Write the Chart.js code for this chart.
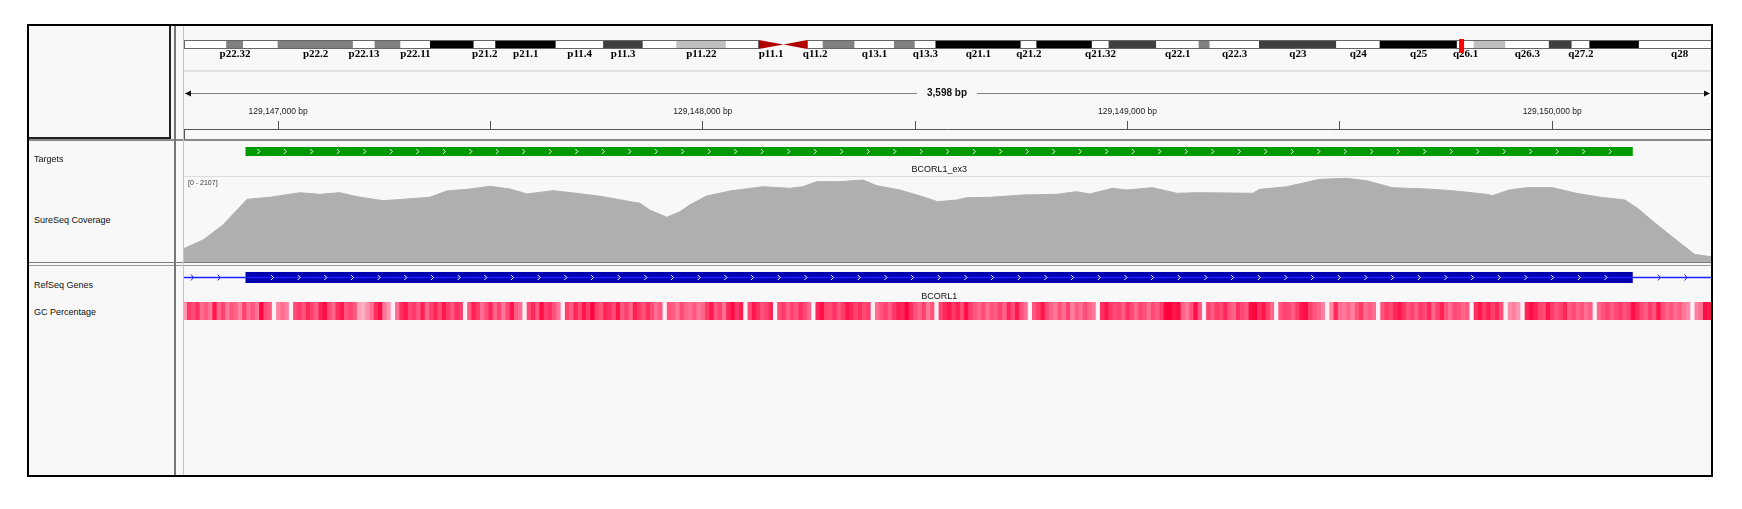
<!DOCTYPE html>
<html>
<head>
<meta charset="utf-8">
<script src="https://cdn.jsdelivr.net/npm/chart.js@4.4.1/dist/chart.umd.min.js"></script>
<style>
  html, body { margin: 0; padding: 0; background: #fff; }
  body { width: 1742px; height: 509px; position: relative; overflow: hidden;
         font-family: "Liberation Sans", Arial, sans-serif; }
  #frame { position: absolute; left: 27px; top: 24px; width: 1686px; height: 453px;
           box-sizing: border-box; border: 2px solid #000; background: #f8f8f8; overflow: hidden; }
  #frame canvas, #frame .ln, #frame .name, #head { position: absolute; }
  #head { left: 0; top: 0; width: 142px; height: 113px; box-sizing: border-box;
          border-right: 2px solid #222; border-bottom: 2px solid #222; }
  .name { left: 5px; font-size: 9px; line-height: 10px; color: #111; white-space: nowrap; }
</style>
</head>
<body>
<div id="frame">
  <div id="head"></div>
  <canvas id="ideo" width="1536" height="26" style="left:155px;top:10px"></canvas>
  <canvas id="ruler" width="1528" height="78" style="left:154px;top:36px"></canvas>
  <canvas id="targets" width="1528" height="34" style="left:154px;top:116px"></canvas>
  <canvas id="coverage" width="1528" height="85" style="left:154px;top:151px"></canvas>
  <canvas id="refseq" width="1528" height="34" style="left:154px;top:241px"></canvas>
  <canvas id="gc" width="1528" height="18" style="left:154px;top:276px"></canvas>

  <div class="ln" style="left:155px;top:44px;width:1530px;height:2px;background:#e2e2e2"></div>
  <div class="ln" style="left:155px;top:103px;width:1px;height:10px;background:#555"></div>
  <div class="ln" style="left:0;top:113px;width:1690px;height:2px;background:#8a8a8a"></div>
  <div class="ln" style="left:155px;top:150px;width:1530px;height:1px;background:#dcdcdc"></div>
  <div class="ln" style="left:0;top:236px;width:1690px;height:1px;background:#7a7a7a"></div>
  <div class="ln" style="left:0;top:239px;width:1690px;height:1px;background:#9a9a9a"></div>
  <div class="ln" style="left:145px;top:0;width:2px;height:460px;background:#777"></div>
  <div class="ln" style="left:154px;top:0;width:1px;height:460px;background:#c4c4c4"></div>

  <div class="name" style="top:128px">Targets</div>
  <div class="name" style="top:189px">SureSeq Coverage</div>
  <div class="name" style="top:254px">RefSeq Genes</div>
  <div class="name" style="top:281px">GC Percentage</div>
</div>

<script>
// view: chrX:129,146,776-129,150,374
const regionStart = 129146776;
const regionEnd = 129150374;
const rulerStep = 500;      // tick every 500 bp, label every 1000 bp
const rulerLabelStep = 1000;

// chrX cytobands (Mb)
const chrLength = 155.27;
const bandNames  = ['p22.33','p22.32','p22.31','p22.2','p22.13','p22.12','p22.11','p21.3','p21.2','p21.1',
                    'p11.4','p11.3','p11.23','p11.22','p11.21','p11.1','q11.1','q11.2','q12','q13.1',
                    'q13.2','q13.3','q21.1','q21.2','q21.31','q21.32','q21.33','q22.1','q22.2','q22.3',
                    'q23','q24','q25','q26.1','q26.2','q26.3','q27.1','q27.2','q27.3','q28'];
const bandStarts = [0, 4.3, 6.0, 9.5, 17.1, 19.3, 21.9, 24.9, 29.3, 31.5,
                    37.6, 42.4, 46.4, 49.8, 54.8, 58.1, 60.6, 63.0, 64.6, 67.8,
                    71.8, 73.9, 76.0, 84.6, 86.2, 91.8, 93.5, 98.3, 102.6, 103.7,
                    108.7, 116.5, 120.9, 128.7, 130.4, 133.6, 138.0, 140.3, 142.1, 147.1];
const bandEnds   = [4.3, 6.0, 9.5, 17.1, 19.3, 21.9, 24.9, 29.3, 31.5, 37.6,
                    42.4, 46.4, 49.8, 54.8, 58.1, 60.6, 63.0, 64.6, 67.8, 71.8,
                    73.9, 76.0, 84.6, 86.2, 91.8, 93.5, 98.3, 102.6, 103.7, 108.7,
                    116.5, 120.9, 128.7, 130.4, 133.6, 138.0, 140.3, 142.1, 147.1, 155.27];
const bandStains = ['gneg','gpos50','gneg','gpos50','gneg','gpos50','gneg','gpos100','gneg','gpos100',
                    'gneg','gpos75','gneg','gpos25','gneg','acen','acen','gneg','gpos50','gneg',
                    'gpos50','gneg','gpos100','gneg','gpos100','gneg','gpos75','gneg','gpos50','gneg',
                    'gpos75','gneg','gpos100','gneg','gpos25','gneg','gpos75','gneg','gpos100','gneg'];
const labelledBands = ['p22.32','p22.2','p22.13','p22.11','p21.2','p21.1','p11.4','p11.3','p11.22','p11.1',
                       'q11.2','q13.1','q13.3','q21.1','q21.2','q21.32','q22.1','q22.3','q23','q24',
                       'q25','q26.1','q26.3','q27.2','q28'];

// Targets track
const targetNames  = ['BCORL1_ex3'];
const targetStarts = [129146924];
const targetEnds   = [129150189];

// RefSeq Genes track
const geneNames  = ['BCORL1'];
const geneStarts = [129115083];
const geneEnds   = [129192058];
const exonStarts = [129146924];
const exonEnds   = [129150189];

// SureSeq Coverage
const coverageMax = 2107;
const coveragePos = [129146776,129146823,129146870,129146927,129146981,129147051,129147098,129147145,129147186,129147247,
                     129147294,129147357,129147397,129147452,129147499,129147546,129147586,129147647,129147703,129147765,
                     129147798,129147852,129147875,129147915,129147946,129147969,129148009,129148064,129148141,129148205,
                     129148235,129148268,129148322,129148377,129148410,129148464,129148518,129148553,129148598,129148621,
                     129148676,129148753,129148833,129148880,129148911,129148965,129148998,129149059,129149116,129149163,
                     129149193,129149295,129149311,129149375,129149452,129149516,129149563,129149624,129149704,129149765,
                     129149845,129149859,129149899,129149940,129150001,129150057,129150114,129150171,129150201,129150248,
                     129150302,129150335,129150374];
const coverageVal = [322,545,917,1554,1604,1718,1678,1718,1619,1520,
                     1554,1604,1760,1810,1876,1810,1686,1768,1703,1619,
                     1554,1455,1289,1108,1247,1413,1636,1760,1866,1827,
                     1866,1990,1990,2033,1891,1785,1619,1495,1537,1594,
                     1604,1661,1678,1743,1686,1827,1785,1843,1703,1718,
                     1715,1703,1801,1866,2049,2074,2016,1843,1810,1768,
                     1678,1645,1785,1843,1843,1703,1604,1537,1330,917,
                     463,190,131];

// GC Percentage, 10 bp windows from regionStart
const gcBinSize = 10;
const gcValues = [
  40,62,58,64,50,55,48,70,52,60,47,55,52,45,60,50,56,48,74,58,
  55,15,45,50,46,15,58,62,56,66,60,54,68,72,58,52,64,70,56,60,
  55,38,35,42,50,65,72,48,40,12,50,64,70,58,62,55,68,52,60,66,
  58,70,62,56,64,60,12,55,68,62,50,57,66,52,60,48,58,70,54,50,
  12,58,66,55,72,60,64,56,48,14,60,54,66,58,70,62,74,60,56,66,
  64,58,70,55,60,52,68,62,56,64,58,50,55,14,56,54,48,58,52,50,
  55,48,52,62,70,56,60,50,66,72,62,68,12,58,70,64,56,60,66,14,
  58,62,54,60,56,64,58,52,14,66,72,60,58,64,56,62,70,66,60,64,
  58,62,14,50,56,60,54,62,68,66,74,64,56,52,60,48,56,14,60,66,
  70,62,68,58,72,60,55,52,58,50,56,54,60,52,66,58,70,56,50,14,
  56,62,70,58,52,48,56,50,60,46,54,50,58,52,48,14,64,70,62,58,
  60,54,64,58,52,60,56,50,58,54,62,74,76,70,72,52,48,56,72,55,
  12,60,54,62,58,66,56,52,64,58,55,72,74,64,70,60,52,14,56,60,
  58,54,62,70,72,60,56,52,46,14,44,66,50,48,52,46,56,62,50,54,
  50,14,56,62,58,66,70,64,56,60,54,62,58,66,52,60,68,56,50,58,
  56,52,54,14,64,70,62,68,60,66,56,14,42,46,40,14,66,72,68,60,
  58,70,62,56,60,66,54,58,52,56,50,54,14,52,56,60,54,58,62,56,
  60,72,66,58,54,62,56,70,58,52,56,50,54,48,44,14,46,50,72,70
];

const sans = '"Liberation Sans", Arial, sans-serif';
const stainColors = { gneg: '#ffffff', gpos25: '#c0c0c0', gpos50: '#808080',
                      gpos75: '#404040', gpos100: '#000000', acen: 'rgba(0,0,0,0)' };

function gcColor(v) {
  const t = Math.max(0, Math.min(1, (v - 20) / 55));
  return 'rgb(255,' + Math.round(240 * (1 - t)) + ',' + Math.round(60 + 185 * (1 - t)) + ')';
}

function baseOptions(extra) {
  return Object.assign({
    animation: false,
    responsive: false,
    events: [],
    plugins: { legend: { display: false }, tooltip: { enabled: false } }
  }, extra);
}

function chevron(ctx, x, y, h) {
  ctx.beginPath();
  ctx.moveTo(x - 1.5, y - h);
  ctx.lineTo(x + 1, y);
  ctx.lineTo(x - 1.5, y + h);
  ctx.stroke();
}

// ---- ideogram ----
const ideogramPlugin = {
  id: 'ideogram',
  afterDatasetsDraw(chart) {
    const { ctx, chartArea: a, scales: { x } } = chart;
    const mid = (a.top + a.bottom) / 2;
    ctx.save();
    // centromere
    ctx.fillStyle = '#b00000';
    bandNames.forEach((n, i) => {
      if (bandStains[i] !== 'acen') return;
      const flat = n[0] === 'p' ? bandStarts[i] : bandEnds[i];
      const tip = n[0] === 'p' ? bandEnds[i] : bandStarts[i];
      ctx.beginPath();
      ctx.moveTo(x.getPixelForValue(flat), a.top);
      ctx.lineTo(x.getPixelForValue(tip), mid);
      ctx.lineTo(x.getPixelForValue(flat), a.bottom);
      ctx.closePath();
      ctx.fill();
    });
    // arm outlines
    const pEnd = bandStarts[bandStains.indexOf('acen')];
    const qStart = bandEnds[bandStains.lastIndexOf('acen')];
    ctx.strokeStyle = '#666';
    ctx.lineWidth = 1;
    [[0, pEnd], [qStart, chrLength]].forEach(([s, e]) => {
      const x0 = Math.round(x.getPixelForValue(s)) + 0.5;
      const x1 = Math.round(x.getPixelForValue(e)) - 0.5;
      ctx.strokeRect(x0, a.top + 0.5, x1 - x0, a.bottom - a.top - 1);
    });
    // band labels
    ctx.fillStyle = '#000';
    ctx.font = 'bold 11px "Liberation Serif", "Times New Roman", serif';
    ctx.textAlign = 'center';
    ctx.textBaseline = 'alphabetic';
    bandNames.forEach((n, i) => {
      if (!labelledBands.includes(n)) return;
      const cx = (x.getPixelForValue(bandStarts[i]) + x.getPixelForValue(bandEnds[i])) / 2;
      ctx.fillText(n, cx, a.bottom + 8);
    });
    // current view
    const v0 = x.getPixelForValue(regionStart / 1e6);
    const v1 = x.getPixelForValue(regionEnd / 1e6);
    const w = Math.max(5, v1 - v0);
    ctx.fillStyle = '#ff0000';
    ctx.fillRect((v0 + v1) / 2 - w / 2, a.top - 1, w, a.bottom - a.top + 5);
    ctx.restore();
  }
};

new Chart(document.getElementById('ideo'), {
  type: 'bar',
  data: {
    labels: ['chrX'],
    datasets: [{
      data: bandNames.map((n, i) => ({ x: [bandStarts[i], bandEnds[i]], y: 'chrX' })),
      backgroundColor: bandStains.map(s => stainColors[s]),
      borderWidth: 0,
      barPercentage: 1,
      categoryPercentage: 1
    }]
  },
  options: baseOptions({
    indexAxis: 'y',
    layout: { padding: { top: 4, bottom: 13 } },
    scales: {
      x: { type: 'linear', min: 0, max: chrLength, display: false },
      y: { type: 'category', display: false }
    }
  }),
  plugins: [ideogramPlugin]
});

// ---- ruler ----
const rulerPlugin = {
  id: 'rulerSpan',
  afterDraw(chart) {
    const { ctx, scales: { x } } = chart;
    const x0 = x.getPixelForValue(regionStart);
    const x1 = x.getPixelForValue(regionEnd);
    const y = 31.5;
    const label = (regionEnd - regionStart).toLocaleString('en-US') + ' bp';
    ctx.save();
    ctx.font = 'bold 10px ' + sans;
    const tw = ctx.measureText(label).width;
    const cx = (x0 + x1) / 2;
    ctx.strokeStyle = '#808080';
    ctx.lineWidth = 1;
    ctx.beginPath();
    ctx.moveTo(x0 + 2, y); ctx.lineTo(cx - tw / 2 - 10, y);
    ctx.moveTo(cx + tw / 2 + 10, y); ctx.lineTo(x1 - 2, y);
    ctx.stroke();
    ctx.fillStyle = '#111';
    ctx.beginPath();
    ctx.moveTo(x0 + 2, y); ctx.lineTo(x0 + 8, y - 3); ctx.lineTo(x0 + 8, y + 3); ctx.closePath();
    ctx.moveTo(x1 - 1, y); ctx.lineTo(x1 - 7, y - 3); ctx.lineTo(x1 - 7, y + 3); ctx.closePath();
    ctx.fill();
    ctx.textAlign = 'center';
    ctx.textBaseline = 'middle';
    ctx.fillText(label, cx, y);
    ctx.restore();
  }
};

new Chart(document.getElementById('ruler'), {
  type: 'line',
  data: { datasets: [] },
  options: baseOptions({
    layout: { padding: { bottom: 2 } },
    scales: {
      x: {
        type: 'linear', position: 'top', min: regionStart, max: regionEnd,
        afterFit(scale) { scale.height = 67; },
        afterBuildTicks(scale) {
          const ticks = [];
          for (let v = Math.ceil(regionStart / rulerStep) * rulerStep; v <= regionEnd; v += rulerStep) {
            ticks.push({ value: v });
          }
          scale.ticks = ticks;
        },
        grid: { drawOnChartArea: false, tickLength: 8, color: '#555', lineWidth: 1 },
        border: { display: true, color: '#555', width: 1 },
        ticks: {
          autoSkip: false, maxRotation: 0, padding: 4,
          color: '#222', font: { family: sans, size: 8.5 },
          callback: v => v % rulerLabelStep === 0 ? v.toLocaleString('en-US') + ' bp' : ''
        }
      },
      y: { display: false, min: 0, max: 1 }
    }
  }),
  plugins: [rulerPlugin]
});

// ---- targets ----
const targetPlugin = {
  id: 'targetDeco',
  afterDatasetsDraw(chart) {
    const { ctx, chartArea: a, scales: { x } } = chart;
    const cy = (a.top + a.bottom) / 2;
    ctx.save();
    targetStarts.forEach((s, i) => {
      const x0 = x.getPixelForValue(s), x1 = x.getPixelForValue(targetEnds[i]);
      ctx.strokeStyle = '#fff';
      ctx.lineWidth = 1;
      for (let px = x0 + 13; px < x1 - 4; px += 26.5) chevron(ctx, px, cy, 2.5);
      ctx.fillStyle = '#111';
      ctx.font = '9px ' + sans;
      ctx.textAlign = 'center';
      ctx.textBaseline = 'middle';
      ctx.fillText(targetNames[i], (x0 + x1) / 2, 28);
    });
    ctx.restore();
  }
};

new Chart(document.getElementById('targets'), {
  type: 'bar',
  data: {
    labels: ['t'],
    datasets: [{
      data: targetStarts.map((s, i) => ({ x: [s, targetEnds[i]], y: 't' })),
      backgroundColor: '#009900',
      borderWidth: 0, barPercentage: 1, categoryPercentage: 1
    }]
  },
  options: baseOptions({
    indexAxis: 'y',
    layout: { padding: { top: 5, bottom: 20 } },
    scales: {
      x: { type: 'linear', min: regionStart, max: regionEnd, display: false },
      y: { type: 'category', display: false }
    }
  }),
  plugins: [targetPlugin]
});

// ---- coverage ----
const rangePlugin = {
  id: 'rangeLabel',
  afterDraw(chart) {
    const ctx = chart.ctx;
    ctx.save();
    ctx.fillStyle = '#333';
    ctx.font = '7px ' + sans;
    ctx.textBaseline = 'middle';
    ctx.fillText('[0 - ' + coverageMax + ']', 5, 6);
    ctx.restore();
  }
};

new Chart(document.getElementById('coverage'), {
  type: 'line',
  data: {
    datasets: [{
      data: coveragePos.map((p, i) => ({ x: p, y: coverageVal[i] })),
      fill: 'origin',
      backgroundColor: '#afafaf',
      borderColor: '#afafaf',
      borderWidth: 1,
      pointRadius: 0,
      tension: 0
    }]
  },
  options: baseOptions({
    scales: {
      x: { type: 'linear', min: regionStart, max: regionEnd, display: false },
      y: { min: 0, max: coverageMax, display: false }
    }
  }),
  plugins: [rangePlugin]
});

// ---- refseq genes ----
const genePlugin = {
  id: 'geneDeco',
  afterDatasetsDraw(chart) {
    const { ctx, chartArea: a, scales: { x } } = chart;
    const cy = (a.top + a.bottom) / 2;
    const step = 26.67;
    ctx.save();
    ctx.lineWidth = 1;
    exonStarts.forEach((s, i) => {
      const x0 = x.getPixelForValue(s), x1 = x.getPixelForValue(exonEnds[i]);
      ctx.strokeStyle = '#fff';
      let px = x0 + step;
      for (; px < x1 - 4; px += step) chevron(ctx, px, cy, 2.5);
      ctx.strokeStyle = '#2020ff';
      for (let q = x0 - step; q > a.left; q -= step) chevron(ctx, q, cy, 3);
      for (let q = px; q < a.right; q += step) if (q > x1 + 4) chevron(ctx, q, cy, 3);
      ctx.fillStyle = '#111';
      ctx.font = '9px ' + sans;
      ctx.textAlign = 'center';
      ctx.textBaseline = 'middle';
      ctx.fillText(geneNames[i], (x0 + x1) / 2, 30);
    });
    ctx.restore();
  }
};

new Chart(document.getElementById('refseq'), {
  type: 'bar',
  data: {
    labels: ['g'],
    datasets: [{
      data: geneStarts.map((s, i) => ({ x: [s, geneEnds[i]], y: 'g' })),
      backgroundColor: '#2020ff',
      borderWidth: 0, barThickness: 1, grouped: false
    }, {
      data: exonStarts.map((s, i) => ({ x: [s, exonEnds[i]], y: 'g' })),
      backgroundColor: '#0000b0',
      borderWidth: 0, barThickness: 11, grouped: false
    }]
  },
  options: baseOptions({
    indexAxis: 'y',
    layout: { padding: { top: 5, bottom: 18 } },
    scales: {
      x: { type: 'linear', min: regionStart, max: regionEnd, display: false },
      y: { type: 'category', display: false }
    }
  }),
  plugins: [genePlugin]
});

// ---- GC percentage ----
new Chart(document.getElementById('gc'), {
  type: 'bar',
  data: {
    datasets: [{
      data: gcValues.map((v, i) => ({ x: regionStart + i * gcBinSize + gcBinSize / 2, y: 1 })),
      backgroundColor: gcValues.map(gcColor),
      borderWidth: 0, barPercentage: 1, categoryPercentage: 1
    }]
  },
  options: baseOptions({
    scales: {
      x: { type: 'linear', min: regionStart, max: regionEnd, offset: false, display: false },
      y: { min: 0, max: 1, display: false }
    }
  })
});
</script>
</body>
</html>
